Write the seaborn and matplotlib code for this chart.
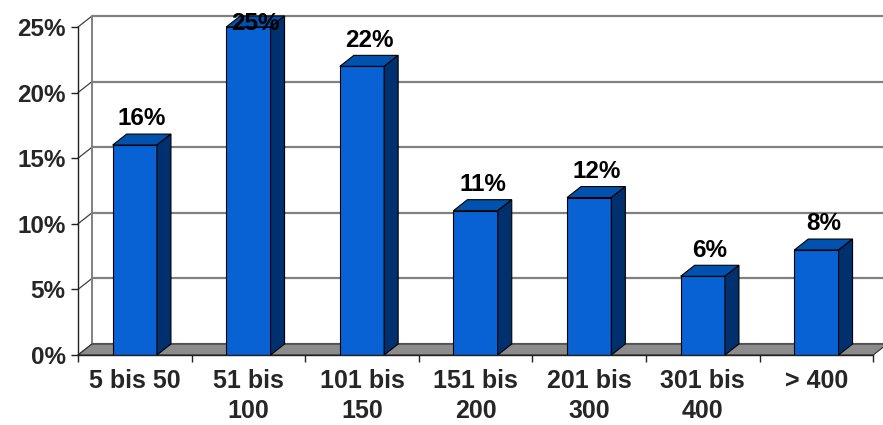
import matplotlib
matplotlib.use("Agg")
import matplotlib.pyplot as plt
from matplotlib.patches import Polygon
from matplotlib.ticker import FixedLocator, FuncFormatter
import seaborn as sns
import pandas as pd

# Anteil der Betriebe nach Größenklasse
categories = ["5 bis 50", "51 bis\n100", "101 bis\n150", "151 bis\n200",
              "201 bis\n300", "301 bis\n400", "> 400"]
shares = [16, 25, 22, 11, 12, 6, 8]
y_ticks = [0, 5, 10, 15, 20, 25]

FRONT = "#0862d4"
TOP = "#0052ae"
SIDE = "#00306e"
GRID = "#808080"
FLOOR = "#8c8c8c"

sns.set_theme(style="white")
plt.rcParams["font.family"] = ["Liberation Sans", "DejaVu Sans"]
plt.rcParams["font.weight"] = "bold"

W, H = 883, 425
fig = plt.figure(figsize=(W / 100, H / 100), dpi=100)
fig.patch.set_facecolor("white")

left_px, right_px, top_px, base_px = 78, 883, 27, 355
ax = fig.add_axes([left_px / W, (H - base_px) / H,
                   (right_px - left_px) / W, (base_px - top_px) / H])
ax.set_facecolor("none")

n = len(categories)
cat_px = 113.6

df = pd.DataFrame({"Klasse": categories, "Anteil": shares})
sns.barplot(data=df, x="Klasse", y="Anteil", color=FRONT, saturation=1,
            width=0.39, edgecolor="black", linewidth=0.8, ax=ax, zorder=4)

# limits set after the barplot so the category axis keeps its spacing
ax.set_xlim(-0.5, -0.5 + (right_px - left_px) / cat_px)
ax.set_ylim(0, 25)

# depth of the pseudo-3D projection, in data units
dx = 14 / cat_px
dy = 11 / ((base_px - top_px) / 25)

# back wall: gridlines, left edge and the slanted connectors
x_back0 = -0.5 + dx
x_end = ax.get_xlim()[1] + 0.1
for t in y_ticks:
    ax.plot([x_back0, x_end], [t + dy, t + dy], color=GRID, lw=1.6,
            zorder=0, clip_on=False, solid_capstyle="butt")
    ax.plot([-0.5, x_back0], [t, t + dy], color="#404040", lw=0.9,
            zorder=0, clip_on=False)
ax.plot([x_back0, x_back0], [dy, 25 + dy], color=GRID, lw=1.4, zorder=0,
        clip_on=False)

# floor
floor = Polygon([(-0.5, 0), (n - 0.5, 0), (n - 0.5 + dx, dy), (x_back0, dy)],
                closed=True, facecolor=FLOOR, edgecolor="#303030", lw=0.8,
                zorder=1, clip_on=False)

# top and side faces of each column
for patch in list(ax.patches):
    x0, w, h = patch.get_x(), patch.get_width(), patch.get_height()
    top = Polygon([(x0, h), (x0 + w, h), (x0 + w + dx, h + dy), (x0 + dx, h + dy)],
                  closed=True, facecolor=TOP, edgecolor="black", lw=0.8,
                  zorder=4, clip_on=False)
    side = Polygon([(x0 + w, 0), (x0 + w + dx, dy), (x0 + w + dx, h + dy), (x0 + w, h)],
                   closed=True, facecolor=SIDE, edgecolor="black", lw=0.8,
                   zorder=4, clip_on=False)
    ax.add_patch(top)
    ax.add_patch(side)
ax.add_patch(floor)

# value labels above the columns, kept inside the plot area
for i, v in enumerate(shares):
    ax.text(i + dx / 2, min(v + 1.5, 24.75), f"{v}%", ha="center",
            va="baseline", fontsize=17.5, fontweight="bold", color="black",
            zorder=6)

# axes
for s in ["top", "right"]:
    ax.spines[s].set_visible(False)
ax.spines["left"].set_color("#202020")
ax.spines["left"].set_linewidth(1.0)
ax.spines["bottom"].set_color("#202020")
ax.spines["bottom"].set_linewidth(1.0)
ax.spines["bottom"].set_bounds(-0.5, n - 0.5)
ax.spines["left"].set_zorder(5)
ax.spines["bottom"].set_zorder(5)

ax.yaxis.set_major_locator(FixedLocator(y_ticks))
ax.yaxis.set_major_formatter(FuncFormatter(lambda v, p: f"{v:.0f}%"))
ax.tick_params(axis="y", which="major", left=True, length=5, width=1,
               color="#202020", pad=4, labelsize=17.5)
ax.xaxis.set_minor_locator(FixedLocator([i - 0.5 for i in range(n + 1)]))
ax.tick_params(axis="x", which="minor", bottom=True, length=5, width=1,
               color="#202020")
ax.tick_params(axis="x", which="major", bottom=False, length=0, pad=10,
               labelsize=18)
for lab in ax.get_xticklabels():
    lab.set_linespacing(1.3)
for lab in ax.get_xticklabels() + ax.get_yticklabels():
    lab.set_fontweight("bold")
ax.set_xlabel("")
ax.set_ylabel("")
ax.grid(False)

fig.savefig("out.png", dpi=100, facecolor="white")
